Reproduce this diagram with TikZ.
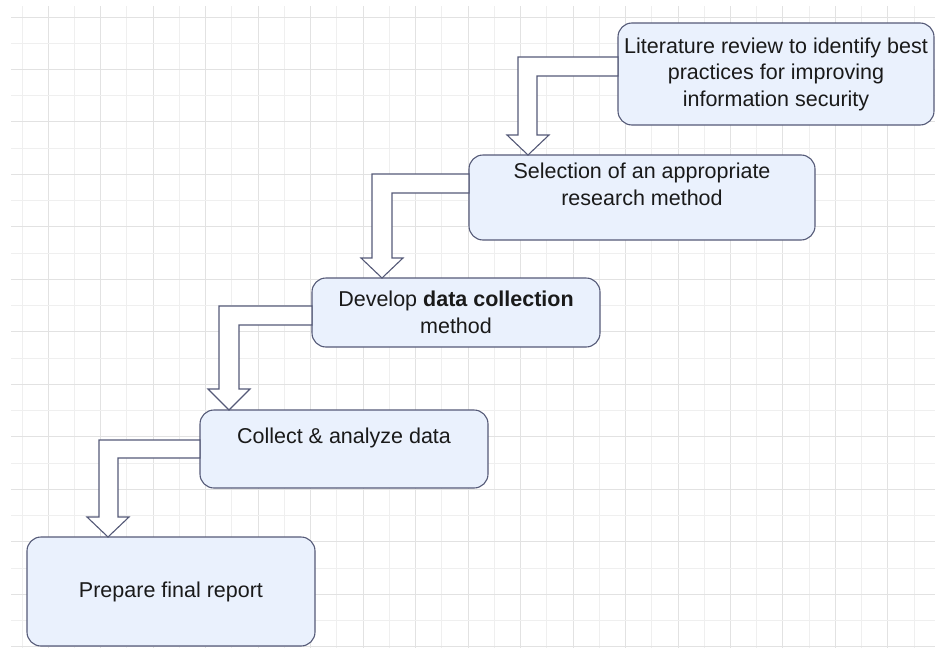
\documentclass[tikz,border=0pt]{standalone}
\usepackage{fontspec}
\setmainfont{Liberation Sans}
\usetikzlibrary{calc}
\definecolor{boxfill}{HTML}{EAF1FD}
\definecolor{edgec}{HTML}{555A78}
\definecolor{textc}{HTML}{1A1A1A}
\definecolor{gridA}{HTML}{E2E2E2}
\definecolor{gridB}{HTML}{EFEFEF}
\begin{document}
\begin{tikzpicture}[x=1pt,y=-1pt,
  box/.style={draw=edgec, fill=boxfill, line width=1.1pt, rounded corners=14pt,
    inner sep=0pt, outer sep=0pt, align=center, text=textc,
    font=\fontsize{21.5}{26.5}\selectfont},
  harrow/.style={draw=edgec, fill=white, line width=1.1pt, line join=miter}]
\useasboundingbox (0,0) rectangle (935,648);
\fill[white] (0,0) rectangle (935,648);
% grid
\foreach \k in {0,...,34}{
  \pgfmathtruncatemacro\m{mod(\k,2)}
  \ifnum\m=1 \def\gc{gridA}\else\def\gc{gridB}\fi
  \draw[\gc, line width=1pt] ({22+26.24*\k},6) -- ({22+26.24*\k},648);
}
\foreach \k in {0,...,24}{
  \pgfmathtruncatemacro\m{mod(\k,2)}
  \ifnum\m=0 \def\gc{gridA}\else\def\gc{gridB}\fi
  \draw[\gc, line width=1pt] (11,{17+26.24*\k}) -- (935,{17+26.24*\k});
}
% boxes
\node[box, minimum width=316pt, minimum height=102pt] (b1) at (776,74)
  {Literature review to identify best\\practices for improving\\information security};
\node[box, minimum width=346pt, minimum height=85pt] (b2) at (642,197.5)
  {Selection of an appropriate\\research method\\\mbox{}};
\node[box, minimum width=288pt, minimum height=69pt] (b3) at (456,312.5)
  {Develop \textbf{data collection}\\method};
\node[box, minimum width=288pt, minimum height=78pt] (b4) at (344,449)
  {Collect \& analyze data\\\mbox{}};
\node[box, minimum width=288pt, minimum height=109pt] (b5) at (171,591.5)
  {Prepare final report};
% hollow L-shaped arrows
\draw[harrow] (b1.west |- 0,57) -- (518,57) -- (518,135) -- (507,135)
  -- (528,0 |- b2.north) -- (549,135) -- (537,135) -- (537,76)
  -- (b1.west |- 0,76) -- cycle;
\draw[harrow] (b2.west |- 0,174) -- (372,174) -- (372,258) -- (361,258)
  -- (382,0 |- b3.north) -- (403,258) -- (392,258) -- (392,193)
  -- (b2.west |- 0,193) -- cycle;
\draw[harrow] (b3.west |- 0,306) -- (219,306) -- (219,389) -- (208,389)
  -- (229,0 |- b4.north) -- (250,389) -- (239,389) -- (239,325)
  -- (b3.west |- 0,325) -- cycle;
\draw[harrow] (b4.west |- 0,440) -- (99,440) -- (99,517) -- (87,517)
  -- (108,0 |- b5.north) -- (129,517) -- (118,517) -- (118,458)
  -- (b4.west |- 0,458) -- cycle;
\end{tikzpicture}
\end{document}
